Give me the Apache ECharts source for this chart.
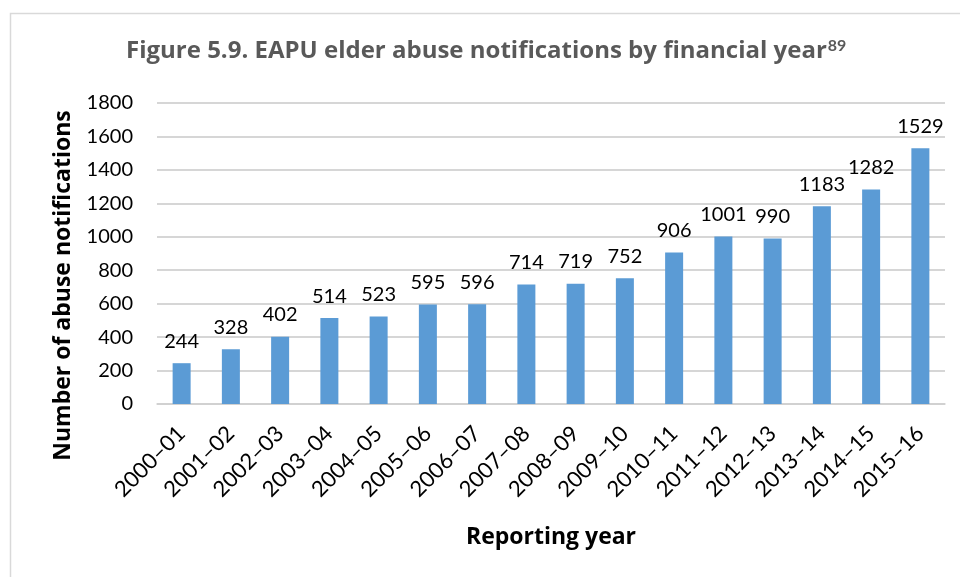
<!DOCTYPE html>
<html>
<head>
<meta charset="utf-8">
<script src="https://cdn.jsdelivr.net/npm/echarts@6/dist/echarts.min.js"></script>
<style>
  html, body { margin: 0; padding: 0; background: #fff; }
  #chart { width: 960px; height: 577px; }
</style>
</head>
<body>
<div id="chart"></div>
<script>
// reporting years and notification counts
const years = ['2000–01', '2001–02', '2002–03', '2003–04', '2004–05', '2005–06', '2006–07', '2007–08',
  '2008–09', '2009–10', '2010–11', '2011–12', '2012–13', '2013–14', '2014–15', '2015–16']
const notifications = [244, 328, 402, 514, 523, 595, 596, 714, 719, 752, 906, 1001, 990, 1183, 1282, 1529]
const yTicks = [0, 200, 400, 600, 800, 1000, 1200, 1400, 1600, 1800]

const font = 'Lato, "Open Sans", sans-serif'
const boldFont = '"Open Sans", Lato, sans-serif'
const chart = echarts.init(document.getElementById('chart'))

chart.setOption({
  animation: false,
  textStyle: { fontFamily: font },
  // light frame around the chart area
  graphic: [{
    type: 'rect',
    shape: { x: 10.5, y: 13.5, width: 980, height: 600 },
    style: { fill: 'none', stroke: '#d9d9d9', lineWidth: 1.5 },
    silent: true
  }],
  title: {
    text: '{t|Figure 5.9. EAPU elder abuse notifications by financial year}{s|89}',
    left: 121,
    top: 33,
    textStyle: {
      rich: {
        t: { fontFamily: boldFont, fontSize: 24, fontWeight: 'bold', color: '#595959' },
        s: { fontFamily: font, fontSize: 16, color: '#595959', verticalAlign: 'top', padding: [0, 0, 10, 1] }
      }
    }
  },
  grid: { left: 157, right: 15, top: 103, bottom: 173 },
  xAxis: {
    type: 'category',
    data: years,
    name: 'Reporting year',
    nameLocation: 'middle',
    nameGap: 122,
    nameTextStyle: { fontFamily: boldFont, fontSize: 23, fontWeight: 'bold', color: '#000' },
    axisLine: { lineStyle: { color: '#d0d0d0', width: 1.5 } },
    axisTick: { show: false },
    axisLabel: { rotate: 45, fontSize: 22, color: '#000', margin: 26, interval: 0 }
  },
  yAxis: {
    type: 'value',
    min: 0,
    max: 1800,
    interval: 200,
    name: 'Number of abuse notifications',
    nameLocation: 'middle',
    nameGap: 82,
    // push the name a little below the plot's middle, as in the original
    nameTextStyle: { fontFamily: boldFont, fontSize: 23, fontWeight: 'bold', color: '#000', padding: [0, 64, 0, 0] },
    axisLine: { show: false },
    axisTick: { show: false },
    axisLabel: {
      fontSize: 20,
      color: '#000',
      margin: 24,
      formatter: v => (yTicks.includes(v) ? String(v) : '')
    },
    splitLine: { lineStyle: { color: '#c8c8c8', width: 1.5 } }
  },
  series: [{
    type: 'bar',
    data: notifications,
    barWidth: 18,
    itemStyle: { color: '#5b9bd5' },
    label: { show: true, position: 'top', distance: 12, fontSize: 20, color: '#000' }
  }]
})
</script>
</body>
</html>
